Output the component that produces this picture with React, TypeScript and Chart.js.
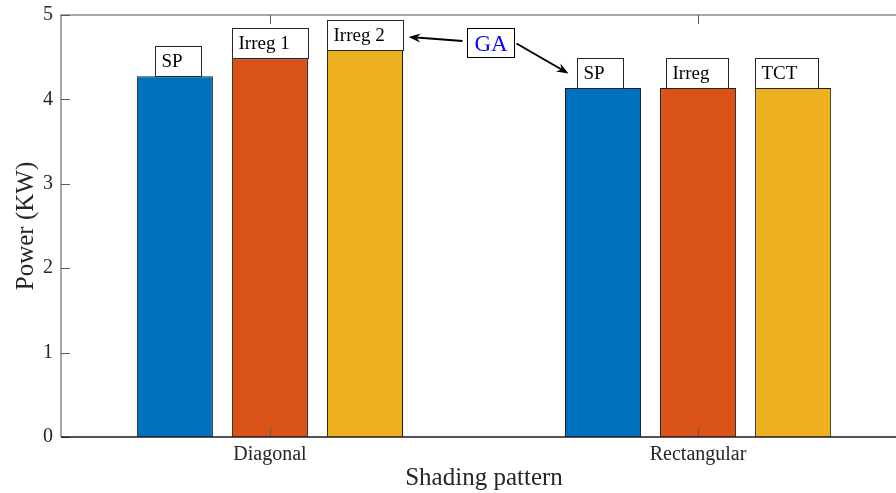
import React, { useEffect, useRef } from 'react';
import { Chart, registerables } from 'chart.js';

Chart.register(...registerables);

// ---- data ----
const categories = ['Diagonal', 'Rectangular'];
const seriesNames = ['SP', 'Irreg', 'TCT'];
const spValues = [4.275, 4.135];
const irregValues = [4.485, 4.135];
const tctValues = [4.585, 4.135];
const yTicks = [0, 1, 2, 3, 4, 5];
const diagonalBoxLabels = ['SP', 'Irreg 1', 'Irreg 2'];
const rectangularBoxLabels = ['SP', 'Irreg', 'TCT'];
const calloutLabel = 'GA';
const xTitle = 'Shading pattern';
const yTitle = 'Power (KW)';

// ---- styling / layout ----
const SERIES_COLORS = ['#0072BD', '#D95319', '#EDB120'];
const SERIF = "'Liberation Serif', 'Times New Roman', serif";
const TEXT_COLOR = '#262626';
const AXIS_COLOR = '#8a8a8a';
const CANVAS_W = 907;
const CANVAS_H = 493;
const X_MIN = 0.512;
const X_MAX = 2.488;
// label boxes: offset from bar's left edge and box width (px), per category / series
const BOX_LAYOUT = [
  [{ dx: 18, w: 46 }, { dx: 0, w: 76 }, { dx: 0, w: 76 }],
  [{ dx: 12, w: 46 }, { dx: 6, w: 62 }, { dx: 0, w: 63 }],
];
const BOX_H = 30;
const CALLOUT_X = 1.516; // data units
const CALLOUT_Y = 4.68;
const CALLOUT_W = 47;
const CALLOUT_H = 29;

const seriesValues = [spValues, irregValues, tctValues];
const boxLabels = [diagonalBoxLabels, rectangularBoxLabels];

function drawArrow(ctx: CanvasRenderingContext2D, x0: number, y0: number, x1: number, y1: number) {
  const ang = Math.atan2(y1 - y0, x1 - x0);
  const len = 12;
  const half = 4.5;
  const notch = 8;
  const ux = Math.cos(ang);
  const uy = Math.sin(ang);
  ctx.save();
  ctx.strokeStyle = '#000';
  ctx.fillStyle = '#000';
  ctx.lineWidth = 2;
  ctx.beginPath();
  ctx.moveTo(x0, y0);
  ctx.lineTo(x1 - ux * notch, y1 - uy * notch);
  ctx.stroke();
  ctx.beginPath();
  ctx.moveTo(x1, y1);
  ctx.lineTo(x1 - ux * len - uy * half, y1 - uy * len + ux * half);
  ctx.lineTo(x1 - ux * notch, y1 - uy * notch);
  ctx.lineTo(x1 - ux * len + uy * half, y1 - uy * len - ux * half);
  ctx.closePath();
  ctx.fill();
  ctx.restore();
}

const decorPlugin = {
  id: 'axesDecor',
  afterDatasetsDraw(chart: any) {
    const { ctx, chartArea } = chart;
    const xs = chart.scales.x;
    const ys = chart.scales.y;
    const { left, right, top, bottom } = chartArea;
    ctx.save();

    // axes box (left and top)
    ctx.strokeStyle = AXIS_COLOR;
    ctx.lineWidth = 1.5;
    ctx.beginPath();
    ctx.moveTo(left, bottom);
    ctx.lineTo(left, top);
    ctx.lineTo(right, top);
    ctx.stroke();

    // inward ticks
    ctx.strokeStyle = '#5a5a5a';
    ctx.lineWidth = 1;
    const tl = 9;
    ctx.beginPath();
    yTicks.forEach((v) => {
      const y = Math.round(ys.getPixelForValue(v)) + 0.5;
      ctx.moveTo(left, y);
      ctx.lineTo(left + tl, y);
    });
    categories.forEach((_, i) => {
      const x = Math.round(xs.getPixelForValue(i + 1)) + 0.5;
      ctx.moveTo(x, bottom);
      ctx.lineTo(x, bottom - tl);
      ctx.moveTo(x, top);
      ctx.lineTo(x, top + tl);
    });
    ctx.stroke();

    // bar baseline
    ctx.strokeStyle = '#1a1a1a';
    ctx.lineWidth = 1.5;
    ctx.beginPath();
    ctx.moveTo(left, bottom);
    ctx.lineTo(right, bottom);
    ctx.stroke();

    // label boxes on top of bars
    const boxes: { l: number; t: number; w: number; h: number }[][] = [];
    ctx.font = `19px ${SERIF}`;
    ctx.textAlign = 'left';
    ctx.textBaseline = 'alphabetic';
    categories.forEach((_, ci) => {
      boxes[ci] = [];
      seriesValues.forEach((__, si) => {
        const bar = chart.getDatasetMeta(si).data[ci];
        const barLeft = bar.x - bar.width / 2;
        const { dx, w } = BOX_LAYOUT[ci][si];
        const l = Math.round(barLeft + dx) + 0.5;
        const t = Math.round(bar.y - BOX_H) + 0.5;
        boxes[ci][si] = { l, t, w, h: BOX_H };
        ctx.fillStyle = '#fff';
        ctx.fillRect(l, t, w, BOX_H);
        ctx.strokeStyle = '#262626';
        ctx.lineWidth = 1;
        ctx.strokeRect(l, t, w, BOX_H);
        ctx.fillStyle = '#000';
        ctx.fillText(boxLabels[ci][si], l + 6, t + 20);
      });
    });

    // callout box
    const cx = xs.getPixelForValue(CALLOUT_X);
    const cy = ys.getPixelForValue(CALLOUT_Y);
    const gl = Math.round(cx - CALLOUT_W / 2) + 0.5;
    const gt = Math.round(cy - CALLOUT_H / 2) + 0.5;
    ctx.fillStyle = '#fff';
    ctx.fillRect(gl, gt, CALLOUT_W, CALLOUT_H);
    ctx.strokeStyle = '#000';
    ctx.lineWidth = 1;
    ctx.strokeRect(gl, gt, CALLOUT_W, CALLOUT_H);
    ctx.font = `23px ${SERIF}`;
    ctx.textAlign = 'center';
    ctx.fillStyle = '#0000ff';
    ctx.fillText(calloutLabel, gl + CALLOUT_W / 2, gt + 22.5);

    // arrows from callout to the GA boxes
    const target1 = boxes[0][2];
    drawArrow(ctx, gl - 5, cy - 1, target1.l + target1.w + 5, target1.t + target1.h * 0.55);
    const target2 = boxes[1][0];
    drawArrow(ctx, gl + CALLOUT_W + 2, cy + 1.5, target2.l - 9, target2.t + target2.h / 2);

    ctx.restore();
  },
};

export default function App() {
  const canvasRef = useRef<HTMLCanvasElement>(null);

  useEffect(() => {
    const canvas = canvasRef.current;
    if (!canvas) return;
    const chart = new Chart(canvas, {
      type: 'bar',
      data: {
        datasets: seriesValues.map((vals, si) => ({
          label: seriesNames[si],
          data: vals.map((v, ci) => ({ x: ci + 1, y: v })),
          backgroundColor: SERIES_COLORS[si],
          borderColor: '#1c1c1c',
          borderWidth: 1,
          categoryPercentage: 0.666,
          barPercentage: 0.8,
        })),
      },
      options: {
        responsive: false,
        animation: false,
        devicePixelRatio: 1,
        layout: { padding: { top: 15, left: 0, right: 0, bottom: 0 } },
        plugins: {
          legend: { display: false },
          tooltip: { enabled: false },
        },
        scales: {
          x: {
            type: 'linear',
            min: X_MIN,
            max: X_MAX,
            offset: false,
            grid: { display: false, drawTicks: false, offset: false },
            border: { display: false },
            afterBuildTicks: (scale: any) => {
              scale.ticks = categories.map((_, i) => ({ value: i + 1 }));
            },
            afterFit: (scale: any) => {
              scale.height = 56;
              scale.paddingLeft = 0;
              scale.paddingRight = 0;
            },
            ticks: {
              autoSkip: false,
              maxRotation: 0,
              padding: 6,
              color: TEXT_COLOR,
              font: { family: SERIF, size: 20 },
              callback: (v: any) => categories[Number(v) - 1] ?? '',
            },
            title: {
              display: true,
              text: xTitle,
              color: TEXT_COLOR,
              font: { family: SERIF, size: 25 },
              padding: { top: 0, bottom: 0 },
            },
          },
          y: {
            min: 0,
            max: 5,
            grid: { display: false, drawTicks: false },
            border: { display: false },
            afterBuildTicks: (scale: any) => {
              scale.ticks = yTicks.map((v) => ({ value: v }));
            },
            afterFit: (scale: any) => {
              scale.width = 61;
              scale.paddingTop = 0;
              scale.paddingBottom = 0;
            },
            ticks: {
              padding: 8,
              color: TEXT_COLOR,
              font: { family: SERIF, size: 20 },
            },
            title: {
              display: true,
              text: yTitle,
              color: TEXT_COLOR,
              font: { family: SERIF, size: 25 },
              padding: { top: 11, bottom: 0 },
            },
          },
        },
      },
      plugins: [decorPlugin],
    } as any);
    return () => chart.destroy();
  }, []);

  return (
    <div
      style={{
        position: 'fixed',
        left: 0,
        top: 0,
        width: 896,
        height: CANVAS_H,
        overflow: 'hidden',
        background: '#fff',
      }}
    >
      <canvas ref={canvasRef} width={CANVAS_W} height={CANVAS_H} style={{ display: 'block' }} />
    </div>
  );
}
